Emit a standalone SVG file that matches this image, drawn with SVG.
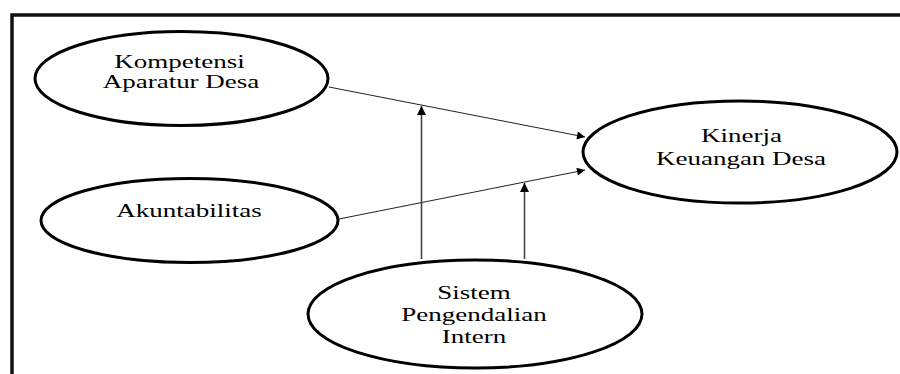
<svg xmlns="http://www.w3.org/2000/svg" width="900" height="374" viewBox="0 0 900 374">
  <style>
    .node { fill: #fff; stroke: #000; stroke-width: 3; }
    .label { font-family: "Liberation Serif", "Times New Roman", serif; font-size: 18px; fill: #000; text-anchor: middle; }
    .path-line { stroke: #222; stroke-width: 1; fill: none; }
    .mod-line { stroke: #444; stroke-width: 1.6; fill: none; }
    .frame { stroke: #111; stroke-width: 3.5; fill: none; }
  </style>
  <defs>
    <marker id="arrow" viewBox="0 0 10 10" refX="10" refY="5" markerWidth="9" markerHeight="8" markerUnits="userSpaceOnUse" orient="auto">
      <path d="M0,0 L10,5 L0,10 Z" fill="#000"/>
    </marker>
    <marker id="arrow-up" viewBox="0 0 10 10" refX="10" refY="5" markerWidth="9" markerHeight="9" markerUnits="userSpaceOnUse" orient="auto">
      <path d="M0,0 L10,5 L0,10 Z" fill="#000"/>
    </marker>
  </defs>

  <rect width="900" height="374" fill="#fff"/>
  <path class="frame" d="M12,376 V15 H902"/>

  <g id="connectors">
    <line class="path-line" x1="329" y1="87" x2="585" y2="137" marker-end="url(#arrow)"/>
    <line class="path-line" x1="339" y1="219" x2="585" y2="170" marker-end="url(#arrow)"/>
    <line class="mod-line" x1="421.5" y1="259" x2="421.5" y2="106" marker-end="url(#arrow-up)"/>
    <line class="mod-line" x1="524.5" y1="259" x2="524.5" y2="183" marker-end="url(#arrow-up)"/>
  </g>

  <!-- labels are set in a wide serif: each line is stretched 1.5x horizontally about its centre -->
  <g id="kompetensi">
    <ellipse class="node" cx="181.5" cy="78.5" rx="146.5" ry="47"/>
    <text class="label" transform="translate(179.5,68) scale(1.5,1)">Kompetensi</text>
    <text class="label" transform="translate(181,88) scale(1.5,1)">Aparatur Desa</text>
  </g>

  <g id="akuntabilitas">
    <ellipse class="node" cx="189.5" cy="220.5" rx="148.5" ry="42"/>
    <text class="label" transform="translate(189,216.5) scale(1.5,1)">Akuntabilitas</text>
  </g>

  <g id="kinerja">
    <ellipse class="node" cx="740" cy="152" rx="157" ry="51"/>
    <text class="label" transform="translate(741.5,141.5) scale(1.5,1)">Kinerja</text>
    <text class="label" transform="translate(741,165) scale(1.5,1)">Keuangan Desa</text>
  </g>

  <g id="sistem">
    <ellipse class="node" cx="475" cy="314" rx="167" ry="54"/>
    <text class="label" transform="translate(474,299) scale(1.5,1)">Sistem</text>
    <text class="label" transform="translate(474,320.5) scale(1.5,1)">Pengendalian</text>
    <text class="label" transform="translate(474,342.5) scale(1.5,1)">Intern</text>
  </g>
</svg>
